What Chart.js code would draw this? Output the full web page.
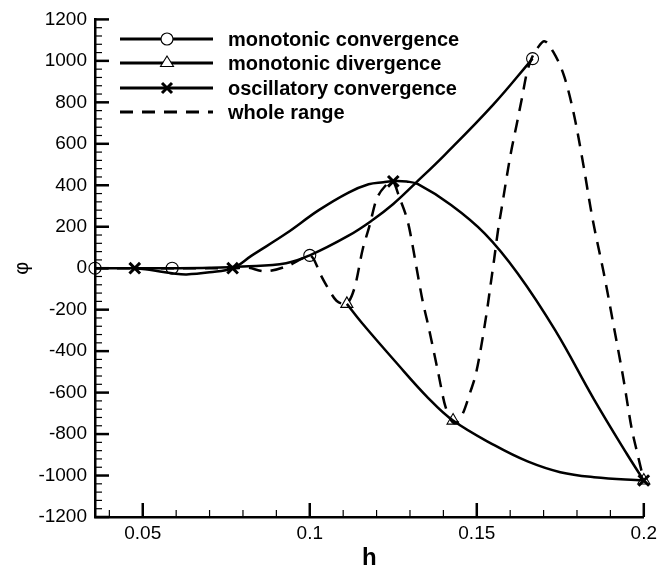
<!DOCTYPE html>
<html>
<head>
<meta charset="utf-8">
<script src="https://cdn.jsdelivr.net/npm/chart.js@4.4.1/dist/chart.umd.min.js"></script>
<style>
  html, body { margin: 0; padding: 0; background: #fff; }
  #wrap { width: 662px; height: 573px; }
</style>
</head>
<body>
<div id="wrap"><canvas id="phiChart" width="662" height="573"></canvas></div>
<script>
// marker points
const convH = [0.0357, 0.0588, 0.1, 0.1667];
const convPhi = [0, 0, 62, 1011];
const divH = [0.1111, 0.1429, 0.2];
const divPhi = [-172, -735, -1024];
const oscH = [0.0476, 0.0769, 0.125, 0.2];
const oscPhi = [0, 0, 419, -1024];

// solid fitted curves
const convCurveH = [0.0357, 0.045, 0.0588, 0.07, 0.08, 0.0929, 0.1, 0.1116, 0.1185, 0.125, 0.1315, 0.1405, 0.155, 0.1667];
const convCurvePhi = [0, 0, 0, 2, 8, 24, 62, 157, 229, 310, 408, 548, 790, 1011];
const divCurveH = [0.1111, 0.1155, 0.1256, 0.1354, 0.1429, 0.1554, 0.1652, 0.175, 0.1851, 0.2];
const divCurvePhi = [-172, -262, -450, -625, -735, -855, -932, -984, -1008, -1024];
const oscCurveH = [0.0476, 0.052, 0.0588, 0.0631, 0.07, 0.0769, 0.0827, 0.0929, 0.1027, 0.1116, 0.1176, 0.122, 0.1255, 0.129, 0.1324, 0.1423, 0.1524, 0.1622, 0.1735, 0.185, 0.1949, 0.2];
const oscCurvePhi = [0, -8, -24, -30, -20, 0, 62, 167, 280, 365, 405, 415, 421, 418, 405, 305, 167, -24, -300, -630, -895, -1024];

// dashed "whole range" curve
const wholeH = [0.0357, 0.05, 0.0625, 0.0714, 0.0769, 0.081, 0.0865, 0.0938, 0.0975, 0.1, 0.1012, 0.1033, 0.1051, 0.108, 0.1107, 0.1134, 0.1159, 0.1179, 0.1198, 0.1228, 0.1247, 0.1269, 0.1295, 0.131, 0.1324, 0.1339, 0.1354, 0.1384, 0.1406, 0.1435, 0.1457, 0.1481, 0.1498, 0.1531, 0.154, 0.1552, 0.1563, 0.1576, 0.1588, 0.16, 0.1619, 0.1635, 0.165, 0.1664, 0.1682, 0.1702, 0.1729, 0.1762, 0.1792, 0.182, 0.1845, 0.1879, 0.189, 0.1909, 0.1939, 0.1964, 0.1979, 0.2];
const wholePhi = [0, 0, 0, 0, 0, 3, -15, 14, 45, 62, 43, -33, -86, -157, -172, -95, 95, 205, 324, 400, 420, 338, 214, 90, -38, -167, -271, -500, -667, -748, -705, -595, -505, -200, -95, 43, 176, 305, 424, 538, 690, 819, 943, 1011, 1062, 1095, 1043, 924, 733, 490, 252, -14, -105, -271, -533, -776, -881, -1024];

// axis ticks
const xTickValues = [0.05, 0.1, 0.15, 0.2];
const yMin = -1200, yMax = 1200, yStep = 200;

const legendLabels = ['monotonic convergence', 'monotonic divergence', 'oscillatory convergence', 'whole range'];

const FONT = "'Liberation Sans', Arial, Helvetica, sans-serif";

function pts(xs, ys) {
    return xs.map((x, i) => ({ x: x, y: ys[i] }));
}

// inward tick marks, like the original plot
const axisTicks = {
    id: 'axisTicks',
    afterDraw(chart) {
        const { ctx, chartArea: a, scales: { x, y } } = chart;
        ctx.save();
        ctx.strokeStyle = '#000';
        function seg(x1, y1, x2, y2, w) {
            ctx.lineWidth = w;
            ctx.beginPath();
            ctx.moveTo(x1, y1);
            ctx.lineTo(x2, y2);
            ctx.stroke();
        }
        for (let i = 4; i <= 20; i++) {
            const v = i / 100;
            const px = x.getPixelForValue(v);
            if (i % 5 === 0) seg(px, a.bottom, px, a.bottom - 14, 2.5);
            else seg(px, a.bottom, px, a.bottom - 7, 1.2);
        }
        for (let v = yMin; v <= yMax; v += 40) {
            const py = y.getPixelForValue(v);
            if (v % 200 === 0) seg(a.left, py, a.left + 14, py, 2.5);
            else seg(a.left, py, a.left + 7, py, 1.2);
        }
        ctx.restore();
    }
};

// legend box in the upper left
const plotLegend = {
    id: 'plotLegend',
    afterDraw(chart) {
        const ctx = chart.ctx;
        const x0 = 120, x1 = 213, xm = 167, xt = 228;
        const rows = [39, 63, 88, 112];
        ctx.save();
        ctx.strokeStyle = '#000';
        ctx.fillStyle = '#000';
        rows.forEach((ry, i) => {
            ctx.lineWidth = 2.8;
            ctx.setLineDash(i === 3 ? [13, 9] : []);
            ctx.beginPath();
            ctx.moveTo(x0, ry);
            ctx.lineTo(x1, ry);
            ctx.stroke();
            ctx.setLineDash([]);
            if (i === 0) {
                ctx.lineWidth = 1.1;
                ctx.fillStyle = '#fff';
                ctx.beginPath();
                ctx.arc(xm, ry, 6, 0, Math.PI * 2);
                ctx.fill();
                ctx.stroke();
            } else if (i === 1) {
                ctx.lineWidth = 1.1;
                ctx.fillStyle = '#fff';
                ctx.beginPath();
                ctx.moveTo(xm, ry - 7);
                ctx.lineTo(xm - 6.5, ry + 3.5);
                ctx.lineTo(xm + 6.5, ry + 3.5);
                ctx.closePath();
                ctx.fill();
                ctx.stroke();
            } else if (i === 2) {
                ctx.lineWidth = 3;
                ctx.beginPath();
                ctx.moveTo(xm - 5, ry - 5); ctx.lineTo(xm + 5, ry + 5);
                ctx.moveTo(xm + 5, ry - 5); ctx.lineTo(xm - 5, ry + 5);
                ctx.stroke();
            }
            ctx.fillStyle = '#000';
            ctx.font = 'bold 20px ' + FONT;
            ctx.textBaseline = 'middle';
            ctx.textAlign = 'left';
            ctx.fillText(legendLabels[i], xt, ry + 1);
        });
        ctx.restore();
    }
};

const curveStyle = {
    showLine: true,
    pointRadius: 0,
    borderColor: '#000',
    borderWidth: 2.5,
    tension: 0.4,
    fill: false
};

new Chart(document.getElementById('phiChart'), {
    type: 'scatter',
    data: {
        datasets: [
            { label: 'monotonic convergence', data: pts(convH, convPhi), pointStyle: 'circle', pointRadius: 6,
              pointBorderWidth: 1.1, pointBorderColor: '#000', pointBackgroundColor: 'rgba(0,0,0,0)', clip: false },
            { label: 'monotonic divergence', data: pts(divH, divPhi), pointStyle: 'triangle', pointRadius: 7,
              pointBorderWidth: 1.1, pointBorderColor: '#000', pointBackgroundColor: 'rgba(0,0,0,0)', clip: false },
            { label: 'oscillatory convergence', data: pts(oscH, oscPhi), pointStyle: 'crossRot', pointRadius: 7.5,
              pointBorderWidth: 3, pointBorderColor: '#000', clip: false },
            Object.assign({ label: 'conv curve', data: pts(convCurveH, convCurvePhi) }, curveStyle),
            Object.assign({ label: 'div curve', data: pts(divCurveH, divCurvePhi) }, curveStyle),
            Object.assign({ label: 'osc curve', data: pts(oscCurveH, oscCurvePhi) }, curveStyle),
            Object.assign({ label: 'whole range', data: pts(wholeH, wholePhi), borderDash: [13, 9] },
                          curveStyle, { tension: 0, cubicInterpolationMode: 'monotone' })
        ]
    },
    options: {
        responsive: false,
        animation: false,
        devicePixelRatio: 1,
        layout: { padding: { left: 0, right: 16, top: 13, bottom: 0 } },
        plugins: {
            legend: { display: false },
            tooltip: { enabled: false }
        },
        scales: {
            x: {
                type: 'linear',
                min: 0.0357,
                max: 0.2,
                afterBuildTicks: function(scale) {
                    scale.ticks = xTickValues.map(v => ({ value: v }));
                },
                afterFit: function(scale) { scale.height = 56; },
                grid: { display: false, drawTicks: false },
                border: { display: true, color: '#000', width: 2.5 },
                ticks: {
                    color: '#000',
                    padding: 5,
                    maxRotation: 0,
                    font: { family: FONT, size: 19 },
                    callback: v => String(v)
                },
                title: {
                    display: true,
                    text: 'h',
                    color: '#000',
                    padding: { top: 0, bottom: 0 },
                    font: { family: FONT, size: 24, weight: 'bold' }
                }
            },
            y: {
                type: 'linear',
                min: yMin,
                max: yMax,
                afterFit: function(scale) { scale.width = 95; },
                grid: { display: false, drawTicks: false },
                border: { display: true, color: '#000', width: 2.5 },
                ticks: {
                    stepSize: yStep,
                    color: '#000',
                    padding: 8,
                    font: { family: FONT, size: 19 },
                    callback: v => String(v)
                },
                title: {
                    display: true,
                    text: 'φ',
                    color: '#000',
                    padding: { top: 10, bottom: 0 },
                    font: { family: FONT, size: 20 }
                }
            }
        }
    },
    plugins: [axisTicks, plotLegend]
});
</script>
</body>
</html>
